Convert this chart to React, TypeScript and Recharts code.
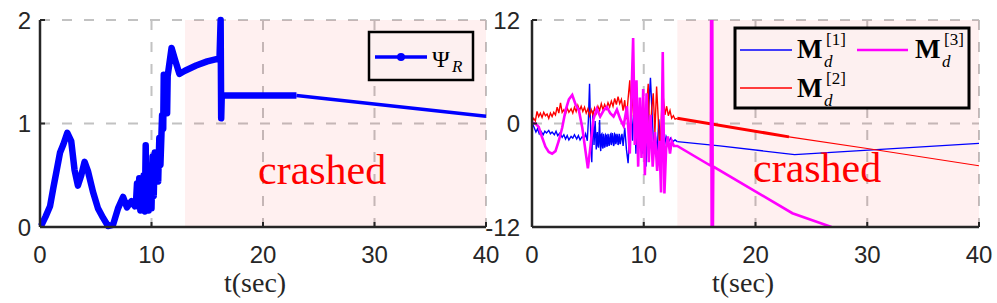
import React from "react";
import { LineChart, Line, XAxis, YAxis, CartesianGrid, ReferenceArea } from "recharts";

type Pt = [number, number];

// left panel: Psi_R (thick part with dense markers, then thin tail)
const psiMain: Pt[] = [
  [0.1, 0.01], [0.5, 0.1], [0.9, 0.2], [1.2, 0.38], [1.5, 0.55], [1.8, 0.72], [2.1, 0.8], [2.45, 0.91],
  [2.8, 0.83], [3.1, 0.55], [3.4, 0.4], [3.7, 0.5], [4.0, 0.63], [4.3, 0.54], [4.75, 0.34], [5.2, 0.18],
  [5.65, 0.09], [6.1, 0.01], [6.55, 0.02], [7.0, 0.18], [7.45, 0.29], [7.8, 0.19], [8.2, 0.25], [8.5, 0.2],
  [8.6, 0.22], [8.7, 0.42], [8.8, 0.2], [8.9, 0.47], [9.0, 0.16], [9.1, 0.45], [9.2, 0.18], [9.3, 0.5],
  [9.4, 0.15], [9.48, 0.79], [9.55, 0.2], [9.65, 0.6], [9.75, 0.16], [9.85, 0.3], [10.0, 0.18], [10.1, 0.68],
  [10.2, 0.3], [10.3, 0.72], [10.4, 0.45], [10.5, 0.65], [10.6, 0.44], [10.7, 0.86], [10.8, 0.6],
  [10.95, 1.08], [11.05, 0.95], [11.1, 1.47], [11.2, 1.1], [11.3, 1.45], [11.4, 1.1], [11.45, 1.46],
  [11.8, 1.73], [12.1, 1.62], [12.5, 1.48], [13.0, 1.51], [14.0, 1.56], [15.0, 1.6],
  [16.1, 1.63], [16.2, 2.0], [16.25, 1.05], [16.3, 1.27], [20, 1.27], [23, 1.27],
];
const psiTail: Pt[] = [[23, 1.27], [40, 1.07]];

// right panel: M_d^[1]
const m1Noisy: Pt[] = [
  [0, -0.3], [0.1, -0.2], [0.2, -0.5], [0.35, -1.0], [0.5, -0.6], [0.65, -1.2], [0.8, -0.9], [1.0, -1.3],
  [1.15, -0.9], [1.3, -1.1], [1.5, -0.8], [1.65, -1.2], [1.8, -1.0], [2.0, -1.3], [2.15, -0.9], [2.3, -1.4],
  [2.5, -1.1], [2.7, -1.6], [2.85, -1.3], [3.0, -1.8], [3.15, -1.4], [3.3, -1.9], [3.5, -1.5], [3.65, -1.7],
  [3.8, -1.3], [4.0, -1.8], [4.15, -1.4], [4.3, -1.9], [4.5, -1.5], [4.65, -1.8], [4.8, -1.2], [4.95, -2.0],
  [5.05, 0.5], [5.15, 4.6], [5.25, -1.0], [5.35, -4.5], [5.45, 1.5], [5.55, -2.5], [5.65, 0.3], [5.75, -3.0],
  [5.8, -1.4], [5.85, -1.0], [5.9, -2.6], [5.95, -2.8], [6.0, -1.1], [6.05, 0.4], [6.1, -2.4], [6.15, -3.2],
  [6.2, -1.3], [6.25, -1.2], [6.3, -2.7], [6.35, -2.9], [6.4, -1.2], [6.45, -1.5], [6.5, -2.8], [6.55, -2.6],
  [6.6, -1.3], [6.65, -1.4], [6.7, -2.7], [6.75, -2.5], [6.8, -1.2], [6.85, -1.6], [6.9, -2.6], [6.95, -2.3],
  [7.0, -1.3], [7.05, -1.2], [7.1, -2.5], [7.15, -2.2], [7.2, -1.1], [7.25, -1.5], [7.3, -2.6], [7.35, -2.4],
  [7.4, -1.2], [7.45, -1.3], [7.5, -2.4], [7.55, -2.1], [7.6, -1.2], [7.65, -1.5], [7.7, -2.5], [7.75, -2.3],
  [7.8, -1.2], [7.85, -1.4], [7.9, -2.4], [7.95, -2.0], [8.05, -1.2], [8.15, -2.6],
  [8.3, -0.5], [8.45, -3.0], [8.6, -4.6], [8.75, -1.0], [8.9, 1.0], [9.0, -2.0], [9.15, 2.5], [9.3, -3.5],
  [9.45, 0.5], [9.6, -2.0], [9.75, 1.5], [9.9, -3.5], [10.05, -1.0], [10.2, -5.0], [10.35, 0.0], [10.5, 3.0],
  [10.6, 5.3], [10.75, 1.0], [10.9, -3.0], [11.05, -1.5], [11.2, -3.2], [11.35, 0.5], [11.5, -2.5], [11.65, -1.2],
  [11.8, -3.0], [12.0, -1.5], [12.2, -2.2], [12.4, -1.7], [12.6, -2.1], [12.8, -1.9], [13.0, -2.1],
];
const m1Tail: Pt[] = [[13.0, -2.1], [16.8, -2.6], [23.5, -3.6], [40, -2.3]];

// M_d^[2]
const m2Noisy: Pt[] = [
  [0, 0.2], [0.15, 0.6], [0.3, 0.3], [0.45, 1.4], [0.6, 0.8], [0.75, 1.2], [0.9, 0.7], [1.05, 1.3], [1.2, 0.9],
  [1.35, 1.1], [1.5, 0.6], [1.65, 1.2], [1.8, 0.8], [1.95, 1.3], [2.1, 1.0], [2.25, 1.9], [2.4, 1.2], [2.55, 2.4],
  [2.7, 1.3], [2.85, 1.6], [3.0, 1.1], [3.15, 1.8], [3.3, 1.3], [3.5, 1.7], [3.65, 1.2], [3.8, 1.9], [3.95, 1.4],
  [4.1, 2.1], [4.25, 1.5], [4.4, 2.0], [4.55, 1.4], [4.7, 1.9], [4.85, 1.2], [5.0, 1.7], [5.15, 0.9], [5.3, 1.6],
  [5.45, 1.0], [5.6, 1.8], [5.75, 1.2], [5.9, 2.0], [6.05, 1.5], [6.2, 2.3], [6.35, 1.6], [6.5, 2.2], [6.65, 1.7],
  [6.8, 2.4], [6.95, 1.9], [7.1, 2.6], [7.25, 2.0], [7.4, 2.9], [7.55, 2.2], [7.7, 3.1], [7.85, 2.3], [8.0, 2.8],
  [8.15, 1.5], [8.3, 2.7], [8.45, 0.5], [8.6, 2.9], [8.75, 5.0], [8.9, 0.8], [9.05, 3.5], [9.2, -1.0], [9.35, 4.2],
  [9.5, -2.7], [9.65, 2.5], [9.8, 0.0], [9.95, 3.0], [10.1, -1.5], [10.25, 2.0], [10.4, 4.6], [10.55, -2.7],
  [10.7, 1.5], [10.85, 3.5], [11.0, -1.0], [11.15, 4.3], [11.3, 0.5], [11.45, -3.5], [11.6, 1.5], [11.75, 3.0],
  [11.9, 1.0], [12.05, 2.0], [12.2, 0.9], [12.35, 1.5], [12.5, 0.6], [12.65, 0.9], [12.8, 0.5], [13.0, 0.6],
];
const m2Mid: Pt[] = [[13.0, 0.6], [23, -1.55]];
const m2Tail: Pt[] = [[23, -1.55], [30, -2.9], [40, -4.9]];

// M_d^[3]
const m3: Pt[] = [
  [0, 0.1], [0.3, 0.0], [0.6, -0.4], [0.9, -1.6], [1.2, -2.7], [1.5, -3.3], [1.8, -3.5], [2.1, -3.2], [2.4, -2.0],
  [2.7, -0.5], [3.0, 1.5], [3.3, 2.8], [3.6, 3.3], [3.9, 2.2], [4.2, 1.5], [4.5, -0.5], [4.8, -3.3], [5.0, -5.2],
  [5.2, -3.0], [5.5, 0.5], [5.8, 1.7], [6.1, 0.8], [6.4, 1.5], [6.7, 1.9], [7.0, 1.2], [7.3, 0.8], [7.6, 1.6],
  [7.9, 0.5], [8.2, -0.3], [8.5, 2.0], [8.75, -3.5], [8.9, 3.0], [9.05, 9.9], [9.2, -2.5], [9.35, 5.0], [9.5, -5.0],
  [9.65, 3.0], [9.8, -4.0], [9.95, 4.0], [10.1, -6.0], [10.25, 3.5], [10.45, -4.5], [10.6, 1.0], [10.8, -5.0],
  [11.0, -1.0], [11.2, -5.5], [11.4, -2.0], [11.55, -8.0], [11.7, 8.3], [11.85, -8.1], [12.0, -3.0], [12.15, -1.5],
  [12.35, -3.5], [12.5, -2.0], [12.7, -2.6], [13.0, -2.6], [16.0, -4.9], [16.03, 14], [16.08, -14], [16.13, 14],
  [16.18, -14], [16.22, -5.0], [23.3, -10.4], [26.8, -12.0],
];

const xTicks = [0, 10, 20, 30, 40];
const psiTicks = [0, 1, 2];
const mTicks = [-12, 0, 12];
const crashStart = 13;

const pts = (a: Pt[]) => a.map(([t, v]) => ({ t, v }));

const ink = "#262626";
const axisLine = { stroke: ink, strokeWidth: 2.5 };
const tickLine = { stroke: ink, strokeWidth: 2 };
const tickFont = { fill: ink, fontSize: 24, fontFamily: "'Liberation Sans', Arial, sans-serif" };
const serif = "'Liberation Serif', 'Times New Roman', serif";
const pink = "#fdf0f0";

export default function App() {
  return (
    <div style={{ position: "absolute", left: 0, top: 0, width: 997, height: 303, background: "#fff", overflow: "hidden" }}>
      <div style={{ position: "absolute", left: 0, top: 0 }}>
        <LineChart width={500} height={303} margin={{ top: 20, right: 14, bottom: 0, left: 0 }}>
          <ReferenceArea x1={crashStart} x2={40} y1={0} y2={2} fill="#ff0000" fillOpacity={0.06} stroke="none" />
          <CartesianGrid stroke="#c2c2c2" strokeWidth={2} strokeDasharray="10 12" />
          <XAxis dataKey="t" type="number" domain={[0, 40]} ticks={xTicks} interval={0} height={76}
            tickSize={-5} tickMargin={24} axisLine={axisLine} tickLine={tickLine} tick={tickFont} />
          <XAxis xAxisId="top" orientation="top" type="number" domain={[0, 40]} ticks={xTicks} height={0}
            tickSize={-5} tick={false} axisLine={axisLine} tickLine={tickLine} />
          <YAxis type="number" domain={[0, 2]} ticks={psiTicks} interval={0} width={40}
            tickSize={-5} tickMargin={14} axisLine={axisLine} tickLine={tickLine} tick={tickFont} />
          <YAxis yAxisId="right" orientation="right" type="number" domain={[0, 2]} ticks={psiTicks} width={0}
            tickSize={-5} tick={false} axisLine={axisLine} tickLine={tickLine} />
          <Line data={pts(psiTail)} dataKey="v" type="linear" stroke="#0000ff" strokeWidth={3.4} dot={false} isAnimationActive={false} />
          <Line data={pts(psiMain)} dataKey="v" type="linear" stroke="#0000ff" strokeWidth={6.5} strokeLinejoin="round" dot={false} isAnimationActive={false} />
        </LineChart>
      </div>

      <div style={{ position: "absolute", left: 480, top: 0 }}>
        <LineChart width={517} height={303} margin={{ top: 20, right: 18, bottom: 0, left: 0 }}>
          <ReferenceArea x1={crashStart} x2={40} y1={-12} y2={12} fill="#ff0000" fillOpacity={0.06} stroke="none" />
          <CartesianGrid stroke="#c2c2c2" strokeWidth={2} strokeDasharray="10 12" />
          <XAxis dataKey="t" type="number" domain={[0, 40]} ticks={xTicks} interval={0} height={76} allowDataOverflow
            tickSize={-5} tickMargin={24} axisLine={axisLine} tickLine={tickLine} tick={tickFont} />
          <XAxis xAxisId="top" orientation="top" type="number" domain={[0, 40]} ticks={xTicks} height={0}
            tickSize={-5} tick={false} axisLine={axisLine} tickLine={tickLine} />
          <YAxis type="number" domain={[-12, 12]} ticks={mTicks} interval={0} width={52} allowDataOverflow
            tickSize={-5} tickMargin={17} axisLine={axisLine} tickLine={tickLine} tick={tickFont} />
          <YAxis yAxisId="right" orientation="right" type="number" domain={[-12, 12]} ticks={mTicks} width={0}
            tickSize={-5} tick={false} axisLine={axisLine} tickLine={tickLine} />
          <Line data={pts(m1Noisy)} dataKey="v" type="linear" stroke="#0000ff" strokeWidth={1.4} dot={false} isAnimationActive={false} />
          <Line data={pts(m1Tail)} dataKey="v" type="linear" stroke="#0000ff" strokeWidth={1.3} dot={false} isAnimationActive={false} />
          <Line data={pts(m2Noisy)} dataKey="v" type="linear" stroke="#ff0000" strokeWidth={1.4} dot={false} isAnimationActive={false} />
          <Line data={pts(m2Mid)} dataKey="v" type="linear" stroke="#ff0000" strokeWidth={3} dot={false} isAnimationActive={false} />
          <Line data={pts(m2Tail)} dataKey="v" type="linear" stroke="#ff0000" strokeWidth={1.2} dot={false} isAnimationActive={false} />
          <Line data={pts(m3)} dataKey="v" type="linear" stroke="#ff00ff" strokeWidth={2.6} dot={false} isAnimationActive={false} />
        </LineChart>
      </div>

      <svg width={997} height={303} style={{ position: "absolute", left: 0, top: 0, pointerEvents: "none" }}>
        {/* annotations */}
        <text x={258} y={184} fontFamily={serif} fontSize={42} fill="#ff0000">crashed</text>
        <text x={753} y={182} fontFamily={serif} fontSize={42} fill="#ff0000">crashed</text>
        <text x={224} y={292} fontFamily={serif} fontSize={28} fill={ink}>t(sec)</text>
        <text x={712} y={292} fontFamily={serif} fontSize={28} fill={ink}>t(sec)</text>

        {/* left legend */}
        <rect x={369} y={32} width={104} height={48} fill={pink} stroke="#000" strokeWidth={2.5} />
        <line x1={375} y1={57} x2={427} y2={57} stroke="#0000ff" strokeWidth={3.4} />
        <circle cx={401} cy={57} r={4} fill="#0000ff" />
        <text x={432} y={67} fontFamily={serif} fontSize={24} fill="#000">Ψ</text>
        <text x={452} y={72} fontFamily={serif} fontSize={17} fontStyle="italic" fill="#000">R</text>

        {/* right legend */}
        <rect x={735} y={28} width={234} height={80} fill={pink} stroke="#000" strokeWidth={3} />
        <line x1={740} y1={50} x2={792} y2={50} stroke="#0000ff" strokeWidth={1.4} />
        <line x1={740} y1={88} x2={792} y2={88} stroke="#ff0000" strokeWidth={1.4} />
        <line x1={857} y1={50} x2={908} y2={50} stroke="#ff00ff" strokeWidth={2.6} />
        <g fontFamily={serif} fill="#000">
          <text x={797} y={58} fontSize={27} fontWeight="bold">M</text>
          <text x={824} y={67} fontSize={17} fontStyle="italic">d</text>
          <text x={826} y={45} fontSize={17}>[1]</text>
          <text x={797} y={97} fontSize={27} fontWeight="bold">M</text>
          <text x={824} y={106} fontSize={17} fontStyle="italic">d</text>
          <text x={826} y={84} fontSize={17}>[2]</text>
          <text x={915} y={58} fontSize={27} fontWeight="bold">M</text>
          <text x={942} y={67} fontSize={17} fontStyle="italic">d</text>
          <text x={944} y={45} fontSize={17}>[3]</text>
        </g>
      </svg>
    </div>
  );
}
